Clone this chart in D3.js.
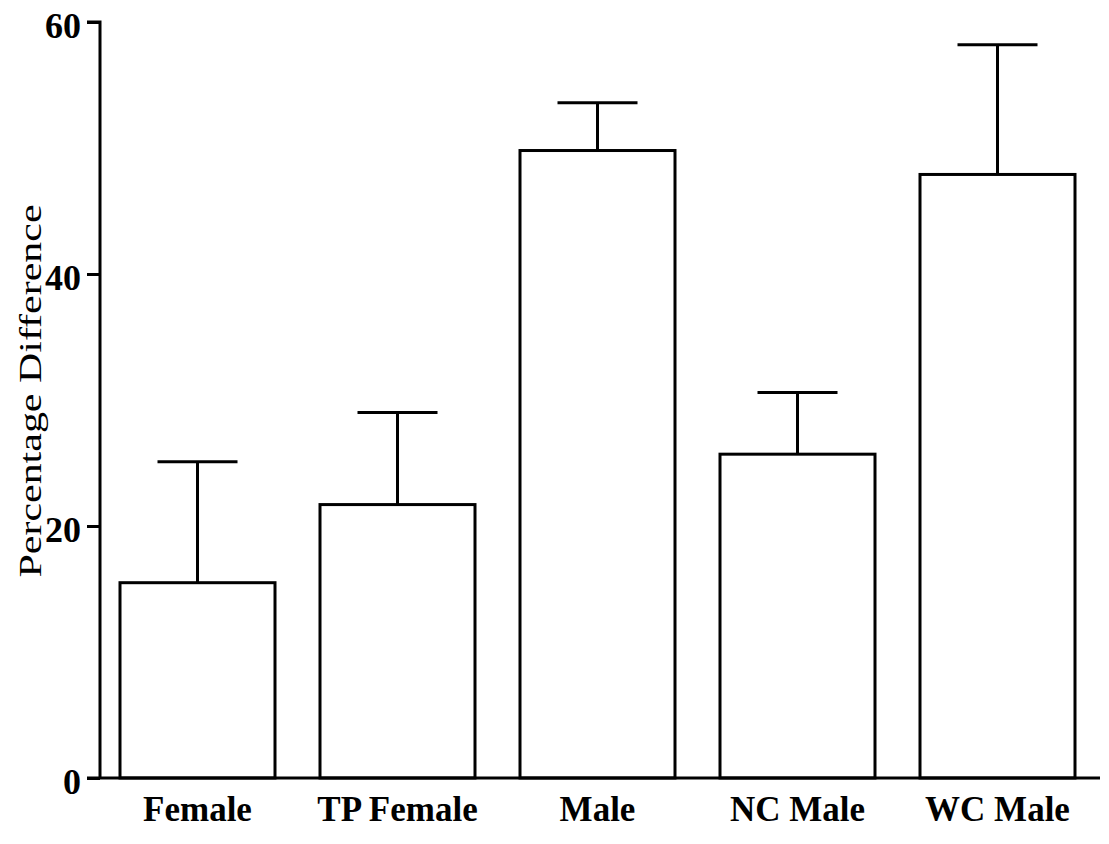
<!DOCTYPE html>
<html><head><meta charset="utf-8">
<script src="https://cdn.jsdelivr.net/npm/d3@7"></script>
<style>body{margin:0;background:#fff}svg{display:block}</style>
</head><body>
<svg id="c" width="1109" height="844"></svg>
<script>
const categories = ["Female", "TP Female", "Male", "NC Male", "WC Male"];
const means = [15.5, 21.7, 49.8, 25.7, 47.9];
const errorTops = [25.1, 29.0, 53.6, 30.6, 58.2];
const yTicks = [0, 20, 40, 60];
const yTitle = "Percentage Difference";

const svg = d3.select("#c");
const font = "'Liberation Serif','DejaVu Serif',serif";
const x = d3.scaleBand().domain(categories).range([100, 1095]).paddingInner(0.225).paddingOuter(0.1);
const y = d3.scaleLinear().domain([0, 60]).range([778, 22]);

// bars
svg.append("g").selectAll("rect").data(categories).join("rect")
  .attr("x", d => x(d)).attr("width", x.bandwidth())
  .attr("y", (d,i) => y(means[i])).attr("height", (d,i) => y(0) - y(means[i]))
  .attr("fill", "#fff").attr("stroke", "#000").attr("stroke-width", 3);

// error bars
const eb = svg.append("g").attr("stroke", "#000").attr("stroke-width", 3);
categories.forEach((c, i) => {
  const cx = x(c) + x.bandwidth() / 2;
  eb.append("line").attr("x1", cx).attr("x2", cx).attr("y1", y(means[i])).attr("y2", y(errorTops[i]));
  eb.append("line").attr("x1", cx - 40).attr("x2", cx + 40).attr("y1", y(errorTops[i])).attr("y2", y(errorTops[i]));
});

// baseline
svg.append("line").attr("x1", 87).attr("x2", 1100).attr("y1", y(0)).attr("y2", y(0))
  .attr("stroke", "#000").attr("stroke-width", 3);

// y axis
const ya = svg.append("g").attr("transform", "translate(100,0)")
  .call(d3.axisLeft(y).tickValues(yTicks).tickSize(13).tickPadding(6).tickFormat(d3.format("d")));
ya.select(".domain").attr("stroke-width", 3).attr("d", `M-13,${y(60)}H0V${y(0)}`);
ya.selectAll(".tick line").attr("stroke-width", 3);
ya.selectAll(".tick text").attr("font-family", font).attr("font-weight", "bold")
  .attr("font-size", 36).attr("fill", "#000").attr("dy", "0.42em");

// x labels
svg.append("g").selectAll("text").data(categories).join("text")
  .attr("x", d => x(d) + x.bandwidth() / 2).attr("y", 821)
  .attr("text-anchor", "middle").attr("font-family", font).attr("font-weight", "bold")
  .attr("font-size", 35).text(d => d);

// y title
svg.append("text").attr("transform", "translate(41,391) rotate(-90)")
  .attr("text-anchor", "middle").attr("font-family", font).attr("font-size", 32)
  .attr("textLength", 373).attr("lengthAdjust", "spacingAndGlyphs").text(yTitle);
</script>
</body></html>
